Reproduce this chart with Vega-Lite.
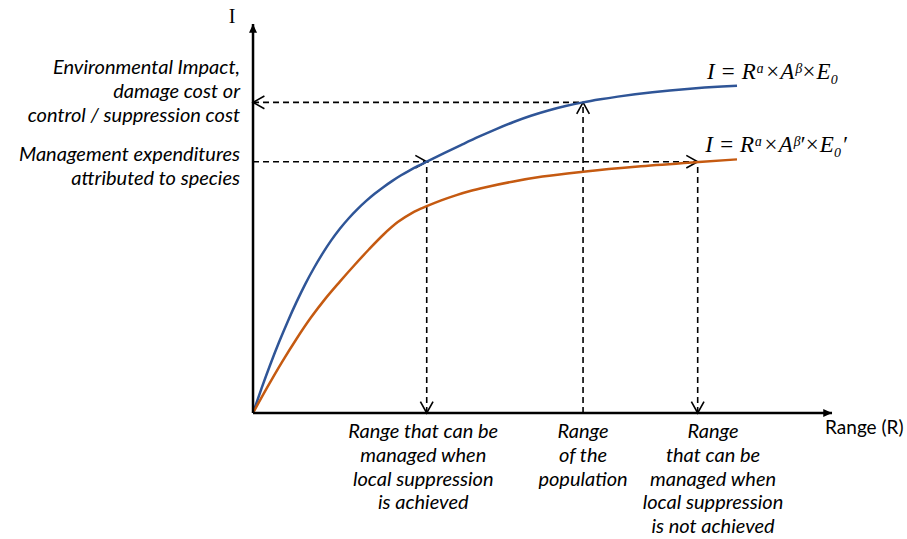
{
  "$schema": "https://vega.github.io/schema/vega-lite/v6.json",
  "width": 907,
  "height": 539,
  "padding": 0,
  "autosize": "none",
  "background": "white",
  "config": {"view": {"stroke": null}},
  "datasets": {
    "curves": [
      {"series": "beta", "R": 0, "I": 0},
      {"series": "beta", "R": 1.5, "I": 6.45},
      {"series": "beta", "R": 3, "I": 12.53},
      {"series": "beta", "R": 4.5, "I": 18.23},
      {"series": "beta", "R": 6, "I": 23.55},
      {"series": "beta", "R": 7.5, "I": 28.5},
      {"series": "beta", "R": 9, "I": 33.08},
      {"series": "beta", "R": 10.5, "I": 37.21},
      {"series": "beta", "R": 12, "I": 40.96},
      {"series": "beta", "R": 13.5, "I": 44.37},
      {"series": "beta", "R": 15, "I": 47.37},
      {"series": "beta", "R": 16.5, "I": 50.01},
      {"series": "beta", "R": 18, "I": 52.35},
      {"series": "beta", "R": 19.5, "I": 54.45},
      {"series": "beta", "R": 21, "I": 56.34},
      {"series": "beta", "R": 22.5, "I": 58.05},
      {"series": "beta", "R": 24, "I": 59.61},
      {"series": "beta", "R": 25.5, "I": 61.04},
      {"series": "beta", "R": 27, "I": 62.33},
      {"series": "beta", "R": 28.5, "I": 63.51},
      {"series": "beta", "R": 30, "I": 64.6},
      {"series": "beta", "R": 33, "I": 66.78},
      {"series": "beta", "R": 36, "I": 68.93},
      {"series": "beta", "R": 39, "I": 71.03},
      {"series": "beta", "R": 42, "I": 73.0},
      {"series": "beta", "R": 45, "I": 74.81},
      {"series": "beta", "R": 48, "I": 76.41},
      {"series": "beta", "R": 51, "I": 77.77},
      {"series": "beta", "R": 54, "I": 78.9},
      {"series": "beta", "R": 57, "I": 79.85},
      {"series": "beta", "R": 60, "I": 80.64},
      {"series": "beta", "R": 63, "I": 81.33},
      {"series": "beta", "R": 66, "I": 81.94},
      {"series": "beta", "R": 69, "I": 82.47},
      {"series": "beta", "R": 72, "I": 82.93},
      {"series": "beta", "R": 75, "I": 83.32},
      {"series": "beta", "R": 78, "I": 83.66},
      {"series": "beta", "R": 81, "I": 83.95},
      {"series": "beta", "R": 83.59, "I": 84.15},
      {"series": "beta prime", "R": 0, "I": 0},
      {"series": "beta prime", "R": 2.5, "I": 6.7},
      {"series": "beta prime", "R": 5, "I": 13.08},
      {"series": "beta prime", "R": 7.5, "I": 19.03},
      {"series": "beta prime", "R": 10, "I": 24.53},
      {"series": "beta prime", "R": 12.5, "I": 29.41},
      {"series": "beta prime", "R": 15, "I": 33.78},
      {"series": "beta prime", "R": 17.5, "I": 37.98},
      {"series": "beta prime", "R": 20, "I": 42.03},
      {"series": "beta prime", "R": 22.5, "I": 45.83},
      {"series": "beta prime", "R": 25, "I": 49.08},
      {"series": "beta prime", "R": 27.5, "I": 51.46},
      {"series": "beta prime", "R": 30, "I": 53.16},
      {"series": "beta prime", "R": 32.5, "I": 54.66},
      {"series": "beta prime", "R": 35, "I": 55.96},
      {"series": "beta prime", "R": 37.5, "I": 57.06},
      {"series": "beta prime", "R": 40, "I": 57.98},
      {"series": "beta prime", "R": 45, "I": 59.53},
      {"series": "beta prime", "R": 50, "I": 60.78},
      {"series": "beta prime", "R": 57, "I": 62.04},
      {"series": "beta prime", "R": 67, "I": 63.44},
      {"series": "beta prime", "R": 77, "I": 64.54},
      {"series": "beta prime", "R": 83.59, "I": 65.2}
    ],
    "axes": [
      {"R": 0, "I": 0, "R2": 100, "I2": 0},
      {"R": 0, "I": 0, "R2": 0, "I2": 100}
    ],
    "axisHeads": [
      {"R": 100, "I": 0, "points": "right"},
      {"R": 0, "I": 100, "points": "up"}
    ],
    "guides": [
      {"R": 0, "I": 79.85, "R2": 57.0, "I2": 79.85},
      {"R": 0, "I": 64.6, "R2": 76.8, "I2": 64.6},
      {"R": 30, "I": 0, "R2": 30, "I2": 64.6},
      {"R": 57.0, "I": 0, "R2": 57.0, "I2": 79.85},
      {"R": 76.8, "I": 0, "R2": 76.8, "I2": 64.6}
    ],
    "guideHeads": [
      {"R": 0, "I": 79.85, "points": "left"},
      {"R": 57.0, "I": 79.85, "points": "up"},
      {"R": 30, "I": 64.6, "points": "right"},
      {"R": 76.8, "I": 64.6, "points": "right"},
      {"R": 30, "I": 0, "points": "down"},
      {"R": 76.8, "I": 0, "points": "down"}
    ],
    "sideLabels": [
      {"R": -2.25, "I": 88.69, "text": "Environmental Impact,\ndamage cost or\ncontrol / suppression cost"},
      {"R": -2.25, "I": 66.32, "text": "Management expenditures\nattributed to species"}
    ],
    "rangeLabels": [
      {"R": 29.4, "I": -2.3, "text": "Range that can be\nmanaged when\nlocal suppression\nis achieved"},
      {"R": 57.0, "I": -2.3, "text": "Range\nof the\npopulation"},
      {"R": 79.45, "I": -2.3, "text": "Range\nthat can be\nmanaged when\nlocal suppression\nis not achieved"}
    ],
    "formulas": [
      {"R": 78.4, "I": 87.7, "text": "I = Rᵅ×Aᵝ×E₀"},
      {"R": 78.1, "I": 68.9, "text": "I = Rᵅ×Aᵝ′×E₀′"}
    ],
    "axisTitles": [
      {"R": 98.8, "I": -3.86, "text": "Range (R)", "axis": "x"},
      {"R": -3.63, "I": 101.8, "text": "I", "axis": "y"}
    ]
  },
  "encoding": {
    "x": {"field": "R", "type": "quantitative", "axis": null,
          "scale": {"domain": [-43.7, 112.95], "nice": false, "zero": false}},
    "y": {"field": "I", "type": "quantitative", "axis": null,
          "scale": {"domain": [-32.39, 106.17], "nice": false, "zero": false}}
  },
  "layer": [
    {
      "data": {"name": "guides"},
      "mark": {"type": "rule", "color": "black", "strokeWidth": 1.6, "strokeDash": [6, 4]},
      "encoding": {"x2": {"field": "R2"}, "y2": {"field": "I2"}}
    },
    {
      "data": {"name": "guideHeads"},
      "mark": {"type": "point", "shape": "M-1.8,-1L0,0L-1.8,1", "filled": false,
               "stroke": "black", "strokeWidth": 1.6, "size": 160, "opacity": 1},
      "encoding": {
        "angle": {"field": "points", "type": "ordinal", "legend": null,
                  "scale": {"type": "ordinal", "domain": ["right", "down", "left", "up"], "range": [0, 90, 180, 270]}}
      }
    },
    {
      "data": {"name": "curves"},
      "mark": {"type": "line", "strokeWidth": 2.5, "interpolate": "monotone"},
      "encoding": {
        "color": {"field": "series", "type": "nominal", "legend": null,
                  "scale": {"domain": ["beta", "beta prime"], "range": ["#2F5597", "#C55A11"]}},
        "order": {"field": "R", "type": "quantitative"}
      }
    },
    {
      "data": {"name": "axes"},
      "mark": {"type": "rule", "color": "black", "strokeWidth": 2.5},
      "encoding": {"x2": {"field": "R2"}, "y2": {"field": "I2"}}
    },
    {
      "data": {"name": "axisHeads"},
      "mark": {"type": "point", "shape": "M-2.2,-1L0,0L-2.2,1Z", "filled": true,
               "color": "black", "size": 64, "opacity": 1},
      "encoding": {
        "angle": {"field": "points", "type": "ordinal", "legend": null,
                  "scale": {"type": "ordinal", "domain": ["right", "down", "left", "up"], "range": [0, 90, 180, 270]}}
      }
    },
    {
      "data": {"name": "sideLabels"},
      "mark": {"type": "text", "align": "right", "baseline": "middle", "lineBreak": "\n",
               "lineHeight": 24, "font": "Lato", "fontStyle": "italic", "fontSize": 20, "color": "black"},
      "encoding": {"text": {"field": "text"}}
    },
    {
      "data": {"name": "rangeLabels"},
      "mark": {"type": "text", "align": "center", "baseline": "top", "lineBreak": "\n",
               "lineHeight": 23.8, "font": "Lato", "fontStyle": "italic", "fontSize": 20, "color": "black"},
      "encoding": {"text": {"field": "text"}}
    },
    {
      "data": {"name": "formulas"},
      "mark": {"type": "text", "align": "left", "baseline": "middle",
               "font": "Liberation Serif", "fontStyle": "italic", "fontSize": 23, "color": "black"},
      "encoding": {"text": {"field": "text"}}
    },
    {
      "data": {"name": "axisTitles"},
      "transform": [{"filter": "datum.axis === 'x'"}],
      "mark": {"type": "text", "align": "left", "baseline": "middle",
               "font": "Lato", "fontSize": 19, "color": "black"},
      "encoding": {"text": {"field": "text"}}
    },
    {
      "data": {"name": "axisTitles"},
      "transform": [{"filter": "datum.axis === 'y'"}],
      "mark": {"type": "text", "align": "center", "baseline": "middle",
               "font": "Liberation Serif", "fontSize": 20, "color": "black"},
      "encoding": {"text": {"field": "text"}}
    }
  ]
}
